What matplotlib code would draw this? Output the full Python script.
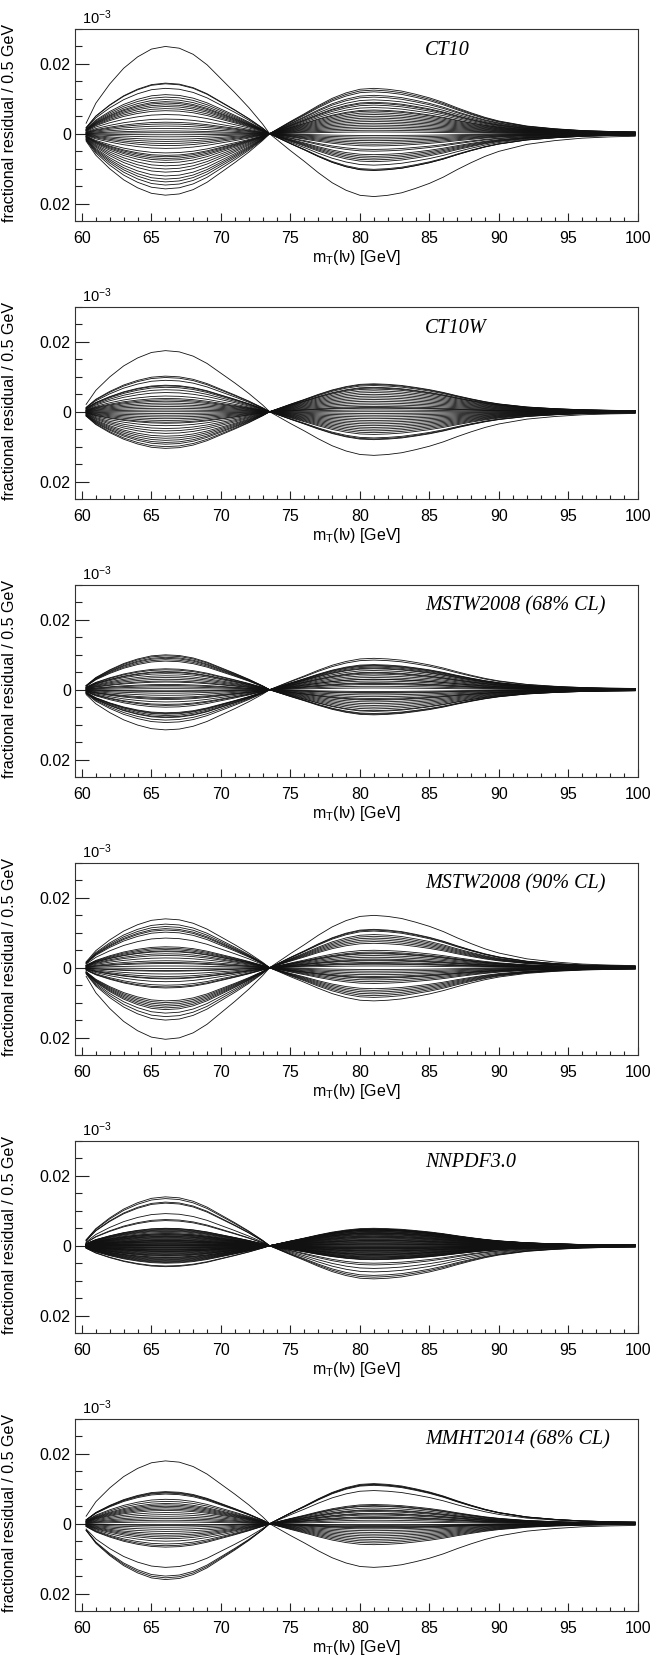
"""Fractional residuals of the mT(lv) template for several PDF sets."""

import matplotlib

matplotlib.use("Agg")
import matplotlib.pyplot as plt
from matplotlib.ticker import MultipleLocator
import numpy as np

plt.rcParams["font.family"] = ["Liberation Sans", "DejaVu Sans"]
plt.rcParams["mathtext.fontset"] = "custom"
plt.rcParams["mathtext.rm"] = "Liberation Sans"
plt.rcParams["mathtext.it"] = "Liberation Sans:italic"

# common shape of the residuals below and above the crossing point (read off the
# outermost CT10 curve, normalised to 1 at the bump maximum)
mt_lo = [60.3, 61, 62, 63, 64, 65, 66, 67, 68, 69, 70, 71, 72, 73, 73.5]
shape_lo = [0.12, 0.35, 0.57, 0.75, 0.88, 0.97, 1.00, 0.98, 0.91, 0.79, 0.63, 0.47, 0.30, 0.11, 0.0]
mt_hi = [73.5, 74, 75, 76, 77, 78, 79, 80, 81, 82, 83, 84, 85, 86, 87, 88, 89, 90, 92, 94, 96, 98, 99.8]
shape_hi = [0.0, 0.09, 0.27, 0.44, 0.62, 0.78, 0.90, 0.98, 1.00, 0.98, 0.94, 0.87, 0.79, 0.69,
            0.57, 0.46, 0.36, 0.28, 0.17, 0.11, 0.07, 0.05, 0.04]

# residual at mT = 66 GeV (lo) and 81 GeV (hi) for every eigenvector / replica
ct10_lo = [0.025, 0.0145, 0.0143, 0.013, 0.0112, 0.0105, 0.0098, 0.0092, 0.0088, 0.0083,
           0.0078, 0.0072, 0.0066, 0.0055, 0.0042, 0.0033, 0.0028, 0.0022, 0.0015, 0.0008,
           0.0003, -0.0003, -0.0009, -0.0016, -0.0022, -0.0028, -0.0034, -0.0042, -0.0055, -0.0062,
           -0.0066, -0.0071, -0.0076, -0.0083, -0.0092, -0.0101, -0.0110, -0.0121, -0.0130, -0.0138,
           -0.0147, -0.0158, -0.0176]
ct10_hi = [-0.018, 0.0050, -0.0105, 0.0130, 0.0010, -0.0060, 0.0090, -0.0030, 0.0075, 0.0020,
           -0.0075, 0.0060, -0.0010, 0.0110, -0.0045, 0.0035, -0.0020, 0.0068, -0.0090, 0.0005,
           0.0025, -0.0005, 0.0082, -0.0035, 0.0045, -0.0102, 0.0015, 0.0097, -0.0065, 0.0120,
           -0.0050, 0.0030, -0.0015, 0.0105, -0.0080, 0.0055, -0.0025, 0.0087, -0.0105, 0.0040,
           0.0065, -0.0070, 0.0125]

ct10w_lo = [0.0175, 0.0102, 0.0098, 0.0090, 0.0076, 0.0074, 0.0070, 0.0063, 0.0055, 0.0045,
            0.0038, 0.0034, 0.0030, 0.0025, 0.0020, 0.0015, 0.0010, 0.0005, 0.0, -0.0005,
            -0.0010, -0.0015, -0.0020, -0.0025, -0.0030, -0.0033, -0.0040, -0.0048, -0.0055, -0.0062,
            -0.0070, -0.0076, -0.0082, -0.0088, -0.0093, -0.0100, -0.0105]
ct10w_hi = [-0.0125, 0.0035, -0.0080, 0.0078, -0.0020, 0.0060, 0.0010, -0.0050, 0.0070, -0.0035,
            0.0045, 0.0015, -0.0010, 0.0080, -0.0065, 0.0025, 0.0005, -0.0040, 0.0055, -0.0015,
            0.0030, -0.0075, 0.0065, -0.0025, 0.0000, 0.0075, -0.0045, 0.0040, -0.0005, 0.0020,
            -0.0055, 0.0050, -0.0030, 0.0068, -0.0078, 0.0012, -0.0060]

mstw68_lo = [0.0100, 0.0097, 0.0093, 0.0086, 0.0082, 0.0060, 0.0057, 0.0052, 0.0046, 0.0040,
             0.0035, 0.0030, 0.0022, 0.0015, 0.0008, 0.0003, -0.0003, -0.0010, -0.0016, -0.0022,
             -0.0028, -0.0035, -0.0042, -0.0050, -0.0066, -0.0070, -0.0074, -0.0080, -0.0087, -0.0094,
             -0.0115, 0.0090, 0.0050, 0.0025, -0.0005, -0.0025, -0.0045, -0.0068, -0.0078, 0.0012]
mstw68_hi = [0.0090, -0.0070, 0.0072, -0.0068, 0.0065, 0.0050, -0.0040, 0.0030, -0.0025, 0.0060,
             -0.0055, 0.0015, -0.0010, 0.0040, 0.0005, -0.0005, 0.0020, -0.0015, 0.0070, -0.0030,
             0.0035, -0.0062, 0.0010, 0.0045, -0.0045, 0.0025, -0.0020, 0.0055, -0.0035, 0.0068,
             -0.0072, -0.0060, 0.0062, -0.0050, 0.0030, -0.0008, 0.0048, 0.0018, -0.0028, 0.0085]

mstw90_lo = [0.0140, 0.0125, 0.0118, 0.0112, 0.0108, 0.0102, 0.0085, 0.0060, 0.0056, 0.0052,
             0.0046, 0.0040, 0.0035, 0.0028, 0.0020, 0.0012, 0.0005, -0.0002, -0.0010, -0.0018,
             -0.0025, -0.0032, -0.0040, -0.0050, -0.0058, -0.0095, -0.0105, -0.0110, -0.0115, -0.0120,
             -0.0130, -0.0140, -0.0150, -0.0205, 0.0048, 0.0015, -0.0008, -0.0030, -0.0055, -0.0100]
mstw90_hi = [-0.0095, 0.0040, -0.0080, 0.0110, -0.0075, 0.0095, -0.0085, 0.0045, -0.0030, 0.0105,
             -0.0020, 0.0050, -0.0060, 0.0025, 0.0010, -0.0010, 0.0035, -0.0025, 0.0015, -0.0005,
             0.0005, -0.0035, 0.0020, -0.0015, 0.0030, 0.0090, -0.0065, 0.0080, -0.0045, 0.0085,
             0.0075, -0.0070, 0.0108, 0.0150, -0.0028, 0.0012, 0.0042, -0.0040, 0.0022, 0.0070]

nnpdf_lo = [0.0140, 0.0135, 0.0125, 0.0122, 0.0092, 0.0075, 0.0072, -0.0060, -0.0058,
            0.0050, -0.0048, 0.0045, -0.0044, 0.0041, -0.0040, 0.0038, -0.0036, 0.0035, -0.0033,
            0.0032, -0.0030, 0.0029, -0.0028, 0.0027, -0.0025, 0.0024, -0.0023, 0.0022, -0.0021,
            0.0020, -0.0019, 0.0018, -0.0017, 0.0016, -0.0015, 0.0014, -0.0013, 0.0012, -0.0011,
            0.0010, -0.0009, 0.0008, -0.0007, 0.0006, -0.0005, 0.0004, -0.0003, 0.0002, -0.0001,
            0.0000, 0.0047, -0.0046, 0.0043, -0.0042, 0.0034, -0.0038, 0.0026, -0.0027, 0.0015,
            -0.0016, 0.0005, -0.0006, 0.0049, -0.0050, 0.0031, -0.0034, 0.0011, -0.0012, 0.0001]
nnpdf_hi = [-0.0095, -0.0090, -0.0085, -0.0075, -0.0065, -0.0055, -0.0050, 0.0045, 0.0048,
            0.0010, 0.0035, -0.0030, 0.0048, -0.0012, 0.0022, -0.0038, 0.0005, 0.0042, -0.0020,
            0.0030, -0.0005, 0.0015, -0.0035, 0.0045, -0.0008, 0.0025, -0.0025, 0.0038, 0.0000,
            -0.0040, 0.0018, 0.0050, -0.0015, 0.0008, -0.0028, 0.0033, -0.0002, 0.0044, -0.0033,
            0.0012, 0.0028, -0.0018, 0.0040, -0.0010, 0.0002, 0.0036, -0.0022, 0.0020, -0.0036,
            0.0046, -0.0006, 0.0014, -0.0026, 0.0032, 0.0004, -0.0014, 0.0024, -0.0032, 0.0041,
            -0.0004, 0.0016, -0.0024, 0.0037, 0.0006, -0.0016, 0.0027, -0.0039, 0.0047, -0.0009]

mmht_lo = [0.0180, 0.0092, 0.0090, 0.0088, 0.0085, 0.0070, 0.0064, 0.0058, 0.0054, 0.0050,
           0.0046, 0.0042, 0.0038, 0.0032, 0.0026, 0.0020, 0.0015, 0.0010, 0.0005, 0.0000,
           -0.0005, -0.0010, -0.0016, -0.0022, -0.0028, -0.0033, -0.0038, -0.0043, -0.0050, -0.0058,
           -0.0063, -0.0067, -0.0125, -0.0150, -0.0155, -0.0160]
mmht_hi = [-0.0125, 0.0050, 0.0113, -0.0020, 0.0115, 0.0030, -0.0045, 0.0020, -0.0010, 0.0040,
           -0.0030, 0.0010, 0.0055, -0.0050, 0.0025, -0.0005, 0.0035, -0.0015, 0.0005, 0.0000,
           0.0045, -0.0025, 0.0015, -0.0035, 0.0028, -0.0040, 0.0052, -0.0008, 0.0018, -0.0055,
           0.0038, -0.0060, 0.0095, 0.0110, -0.0012, 0.0112]

titles = ["CT10", "CT10W", "MSTW2008 (68% CL)", "MSTW2008 (90% CL)", "NNPDF3.0", "MMHT2014 (68% CL)"]
panels_lo = [ct10_lo, ct10w_lo, mstw68_lo, mstw90_lo, nnpdf_lo, mmht_lo]
panels_hi = [ct10_hi, ct10w_hi, mstw68_hi, mstw90_hi, nnpdf_hi, mmht_hi]

ytick_vals = [-0.02, 0.0, 0.02]
ytick_labels = ["0.02", "0", "0.02"]
xtick_vals = [60, 65, 70, 75, 80, 85, 90, 95, 100]


def main():
    W, H = 662, 1655
    fig = plt.figure(figsize=(W / 100, H / 100), dpi=100)

    x_lo = np.array(mt_lo)
    x_hi = np.array(mt_hi)
    s_lo = np.array(shape_lo)
    s_hi = np.array(shape_hi)
    xs = np.concatenate([x_lo, x_hi[1:]])

    left, right = 75, 638
    for i, (title, lo, hi) in enumerate(zip(titles, panels_lo, panels_hi)):
        top = 29 + 278 * i
        ax = fig.add_axes([left / W, 1 - (top + 192) / H, (right - left) / W, 192 / H])

        for a, b in zip(lo, hi):
            ys = np.concatenate([a * s_lo, b * s_hi[1:]])
            ax.plot(xs, ys, color="#111111", lw=0.6)

        ax.set_xlim(59.5, 100)
        ax.set_ylim(-0.025, 0.030)
        ax.set_xticks(xtick_vals)
        ax.xaxis.set_minor_locator(MultipleLocator(1))
        ax.set_yticks(ytick_vals)
        ax.set_yticklabels(ytick_labels)
        ax.yaxis.set_minor_locator(MultipleLocator(0.005))

        ax.tick_params(axis="both", which="both", direction="in", top=False, right=False,
                       labelsize=11.5, width=0.8, color="#222222")
        ax.tick_params(axis="y", which="major", length=10, pad=3)
        ax.tick_params(axis="y", which="minor", length=5)
        ax.tick_params(axis="x", which="major", length=5.5, pad=7)
        ax.tick_params(axis="x", which="minor", length=3)
        for sp in ax.spines.values():
            sp.set_linewidth(0.8)
            sp.set_color("#333333")

        ax.set_ylabel("fractional residual / 0.5 GeV", fontsize=11.5)
        ax.yaxis.set_label_coords(-0.103, 0.51)
        ax.set_xlabel(r"m$_\mathregular{T}$(lν) [GeV]", fontsize=11.5)
        ax.xaxis.set_label_coords(0.5, -0.14)

        ax.text(0.012, 1.008, r"$10^{-3}$", transform=ax.transAxes, fontsize=10.5,
                ha="left", va="bottom")
        ax.text(0.622, 0.89, title, transform=ax.transAxes, family="Liberation Serif",
                style="italic", fontsize=14.5, ha="left", va="center")

    fig.savefig("out.png", dpi=100)
    plt.close(fig)


if __name__ == "__main__":
    main()
